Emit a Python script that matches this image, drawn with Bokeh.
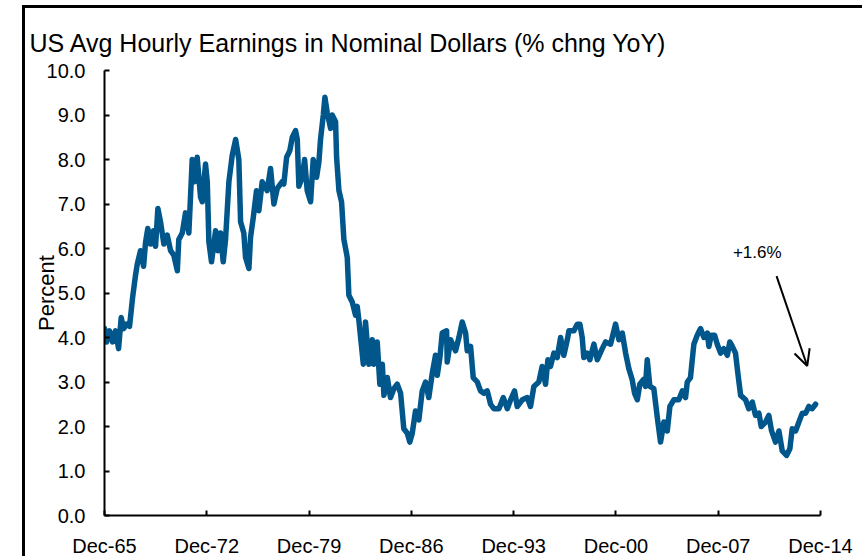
from bokeh.plotting import figure
from bokeh.models import Range1d, FixedTicker, Label, Arrow, OpenHead
from bokeh.embed import file_html
from bokeh.resources import INLINE

# ---- data ----
years = [1965.92, 1966.06, 1966.26, 1966.47, 1966.67, 1966.88, 1967.06, 1967.22, 1967.43, 1967.63,
         1967.84, 1968.04, 1968.16, 1968.38, 1968.59, 1968.73, 1968.88, 1969.07, 1969.27, 1969.41,
         1969.57, 1969.75, 1969.98, 1970.21, 1970.44, 1970.66, 1970.90, 1971.00, 1971.24, 1971.46,
         1971.69, 1971.92, 1972.08, 1972.26, 1972.49, 1972.61, 1972.83, 1972.95, 1973.06, 1973.24,
         1973.52, 1973.67, 1973.86, 1974.04, 1974.20, 1974.43, 1974.66, 1974.89, 1975.11, 1975.23,
         1975.45, 1975.57, 1975.80, 1975.91, 1976.10, 1976.32, 1976.48, 1976.71, 1977.05, 1977.28,
         1977.51, 1977.74, 1978.08, 1978.19, 1978.38, 1978.60, 1978.77, 1978.99, 1979.11, 1979.22,
         1979.45, 1979.61, 1979.79, 1980.02, 1980.20, 1980.43, 1980.59, 1980.70, 1980.89, 1981.00,
         1981.16, 1981.39, 1981.50, 1981.73, 1981.80, 1981.96, 1982.14, 1982.30, 1982.53, 1982.64,
         1982.87, 1983.10, 1983.21, 1983.32, 1983.63, 1983.78, 1984.01, 1984.24, 1984.35, 1984.58,
         1984.76, 1984.93, 1985.04, 1985.27, 1985.49, 1985.72, 1985.95, 1986.18, 1986.40, 1986.64,
         1986.81, 1986.98, 1987.20, 1987.43, 1987.66, 1987.89, 1988.11, 1988.35, 1988.57, 1988.69,
         1988.87, 1989.03, 1989.33, 1989.37, 1989.60, 1989.94, 1990.17, 1990.40, 1990.63, 1990.74,
         1990.97, 1991.15, 1991.43, 1991.65, 1991.88, 1992.11, 1992.34, 1992.56, 1992.91, 1993.21,
         1993.48, 1993.71, 1993.98, 1994.16, 1994.51, 1994.85, 1995.07, 1995.30, 1995.64, 1995.87,
         1996.10, 1996.26, 1996.44, 1996.67, 1996.90, 1997.13, 1997.35, 1997.59, 1997.70, 1998.04,
         1998.27, 1998.45, 1998.61, 1998.72, 1998.95, 1999.13, 1999.41, 1999.64, 1999.98, 2000.21,
         2000.55, 2000.89, 2001.12, 2001.35, 2001.58, 2001.80, 2002.03, 2002.19, 2002.38, 2002.55,
         2002.79, 2002.94, 2003.06, 2003.24, 2003.51, 2003.75, 2003.97, 2004.20, 2004.43, 2004.61,
         2004.88, 2005.22, 2005.46, 2005.68, 2005.80, 2006.02, 2006.14, 2006.25, 2006.48, 2006.71,
         2006.94, 2007.17, 2007.28, 2007.44, 2007.67, 2007.85, 2008.08, 2008.30, 2008.54, 2008.71,
         2008.88, 2009.10, 2009.26, 2009.45, 2009.79, 2010.01, 2010.25, 2010.47, 2010.70, 2010.86,
         2011.16, 2011.38, 2011.57, 2011.84, 2012.07, 2012.30, 2012.59, 2012.82, 2012.98, 2013.21,
         2013.44, 2013.67, 2013.90, 2014.12, 2014.35, 2014.58]

pct_yoy = [4.2, 3.9, 4.15, 3.9, 4.15, 3.75, 4.45, 4.2, 4.3, 4.25,
           4.9, 5.4, 5.65, 5.95, 5.6, 6.15, 6.45, 6.1, 6.4, 6.05,
           6.9, 6.6, 6.1, 6.3, 5.95, 5.85, 5.5, 6.2, 6.35, 6.8,
           6.35, 8.0, 7.5, 8.05, 7.15, 7.05, 7.9, 7.5, 6.15, 5.7,
           6.4, 5.95, 6.35, 5.7, 6.2, 7.5, 8.1, 8.45, 8.0, 6.6,
           6.35, 5.8, 5.55, 6.25, 6.7, 7.3, 6.85, 7.5, 7.3, 7.8,
           7.0, 7.35, 7.5, 7.45, 8.05, 8.2, 8.5, 8.65, 8.45, 7.4,
           7.6, 8.0, 7.3, 7.05, 8.0, 7.6, 7.95, 8.45, 9.0, 9.4,
           9.05, 8.7, 9.0, 8.85, 8.05, 7.3, 7.05, 6.2, 5.8, 4.95,
           4.8, 4.5, 4.7, 4.4, 3.4, 4.35, 3.4, 3.95, 3.4, 3.9,
           2.95, 3.4, 2.7, 3.1, 2.65, 2.85, 2.95, 2.75, 1.95, 1.85,
           1.65, 1.85, 2.35, 2.15, 2.8, 3.0, 2.65, 3.2, 3.6, 3.15,
           3.55, 4.1, 4.15, 3.45, 3.95, 3.7, 4.0, 4.35, 4.1, 3.7,
           3.8, 3.1, 3.0, 2.8, 2.75, 2.8, 2.5, 2.4, 2.4, 2.65,
           2.4, 2.6, 2.8, 2.45, 2.6, 2.65, 2.45, 2.9, 3.0, 3.35,
           2.95, 3.5, 3.35, 3.65, 3.55, 4.0, 3.6, 3.95, 4.15, 4.15,
           4.3, 4.3, 4.0, 3.55, 3.65, 3.5, 3.85, 3.5, 3.75, 3.9,
           3.85, 4.3, 3.95, 4.1, 3.65, 3.3, 3.05, 2.75, 2.6, 2.95,
           3.05, 2.9, 3.5, 2.9, 2.85, 2.2, 1.65, 2.1, 1.9, 2.45,
           2.6, 2.6, 2.8, 2.65, 3.0, 3.1, 3.5, 3.85, 4.05, 4.2,
           4.0, 4.1, 3.8, 4.05, 4.05, 3.85, 3.65, 3.75, 3.6, 3.9,
           3.8, 3.65, 3.2, 2.7, 2.6, 2.4, 2.55, 2.25, 2.3, 2.0,
           2.1, 2.25, 1.9, 1.65, 1.9, 1.45, 1.35, 1.5, 1.95, 1.9,
           2.1, 2.3, 2.3, 2.45, 2.4, 2.5]

tick_years = [1965 + 11 / 12 + 7 * i for i in range(8)]
tick_labels = ["Dec-65", "Dec-72", "Dec-79", "Dec-86", "Dec-93", "Dec-00", "Dec-07", "Dec-14"]
y_ticks = [0, 1, 2, 3, 4, 5, 6, 7, 8, 9, 10]

title_text = "US Avg Hourly Earnings in Nominal  Dollars (% chng YoY)"
y_label = "Percent"
note_text = "+1.6%"

FONT = "Liberation Sans"
LINE_COLOR = "#01578B"

p = figure(width=840, height=551, output_backend="svg", toolbar_location=None,
           x_range=Range1d(tick_years[0], tick_years[-1]), y_range=Range1d(0, 10),
           min_border_left=79, min_border_right=45, min_border_top=62, min_border_bottom=42,
           title=title_text)
# outer frame of the chart (left and top edges)
p.styles = {"margin-left": "22px", "margin-top": "5px",
            "border-left": "3px solid black", "border-top": "3px solid black"}
p.outline_line_color = None
p.xgrid.visible = False
p.ygrid.visible = False
p.background_fill_color = "white"
p.border_fill_color = "white"

p.title.text_font = FONT
p.title.text_font_size = "25px"
p.title.text_font_style = "normal"
p.title.text_color = "black"
p.title.align = "left"
p.title.vertical_align = "top"
p.title.offset = -75
p.title.standoff = 24

p.line(years, pct_yoy, line_width=5.5, line_color=LINE_COLOR, line_join="round", line_cap="round")

for ax in (p.xaxis[0], p.yaxis[0]):
    ax.axis_line_width = 2
    ax.axis_line_color = "black"
    ax.major_tick_line_width = 2
    ax.major_tick_line_color = "black"
    ax.major_tick_in = 5
    ax.major_tick_out = 0
    ax.minor_tick_line_color = None
    ax.major_label_text_font = FONT
    ax.major_label_text_font_size = "20px"
    ax.major_label_text_color = "black"

p.xaxis[0].ticker = FixedTicker(ticks=tick_years)
p.xaxis[0].major_label_overrides = {t: l for t, l in zip(tick_years, tick_labels)}
p.xaxis[0].major_label_standoff = 19
p.yaxis[0].ticker = FixedTicker(ticks=y_ticks)
p.yaxis[0].major_label_overrides = {t: f"{t:.1f}" for t in y_ticks}
p.yaxis[0].major_label_standoff = 19
p.yaxis[0].axis_label = y_label
p.yaxis[0].axis_label_text_font = FONT
p.yaxis[0].axis_label_text_font_size = "22px"
p.yaxis[0].axis_label_text_font_style = "normal"
p.yaxis[0].axis_label_text_color = "black"
p.yaxis[0].axis_label_standoff = -15

p.add_layout(Label(x=2010.59, y=5.9, text=note_text, text_font=FONT,
                   text_font_size="17px", text_color="black", text_align="center",
                   text_baseline="middle"))
p.add_layout(Arrow(end=OpenHead(size=16, line_width=2, line_color="black"),
                   x_start=2011.91, y_start=5.38, x_end=2014.01, y_end=3.36,
                   line_width=2, line_color="black"))

open("out.html", "w").write(file_html(p, INLINE))
